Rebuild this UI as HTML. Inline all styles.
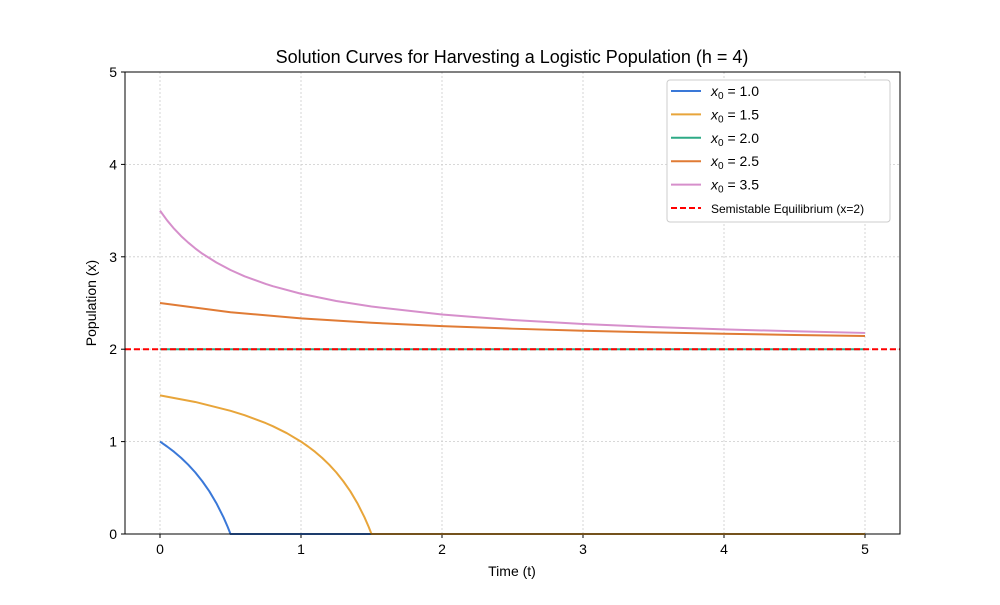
<!DOCTYPE html>
<html><head><meta charset="utf-8"><style>
body{margin:0;background:#fff;font-family:"Liberation Sans",sans-serif}
svg text{font-family:"Liberation Sans",sans-serif}
</style></head><body>
<svg id="c" width="1000" height="600"></svg>
<script>
const seriesLabels=["1.0","1.5","2.0","2.5","3.5"];
const seriesColors=["#3a78d8","#e8a53a","#2eaa86","#e07b35","#d68fcb"];
const t10=[0,0.05,0.1,0.15,0.2,0.25,0.3,0.35,0.4,0.45,0.48,0.5,5];
const x10=[1,0.947,0.889,0.824,0.75,0.667,0.571,0.462,0.333,0.182,0.077,0,0];
const t15=[0,0.25,0.5,0.6,0.75,0.8,0.9,1,1.05,1.1,1.15,1.2,1.25,1.3,1.35,1.4,1.45,1.48,1.5,5];
const x15=[1.5,1.429,1.333,1.286,1.2,1.167,1.091,1.0,0.947,0.889,0.824,0.75,0.667,0.571,0.462,0.333,0.182,0.077,0,0];
const t20=[0,5];
const x20=[2,2];
const t25=[0,0.5,1,1.5,2,2.5,3,3.5,4,4.5,5];
const x25=[2.5,2.4,2.333,2.286,2.25,2.222,2.2,2.182,2.167,2.154,2.143];
const t35=[0,0.05,0.1,0.15,0.2,0.25,0.3,0.4,0.5,0.6,0.75,0.8,1,1.25,1.5,2,2.5,3,3.5,4,4.5,5];
const x35=[3.5,3.395,3.304,3.224,3.154,3.091,3.034,2.938,2.857,2.789,2.706,2.682,2.6,2.522,2.462,2.375,2.316,2.273,2.24,2.214,2.194,2.176];
const xTicks=[0,1,2,3,4,5];
const yTicks=[0,1,2,3,4,5];
const equilibrium=2;
const L=125,R=900,T=72,B=534;
const X=t=>160+t*141, Y=v=>B-v*(B-T)/5;
const svg=document.getElementById('c');
const NS='http://www.w3.org/2000/svg';
function mk(tag,a,txt){const e=document.createElementNS(NS,tag);for(const k in a)e.setAttribute(k,a[k]);if(txt!==undefined)e.textContent=txt;svg.appendChild(e);return e;}
xTicks.forEach(v=>{
 const g=mk('line',{x1:X(v),x2:X(v),y1:T,y2:B,stroke:'#ccc','stroke-dasharray':'2,2','stroke-width':0.8});
 
 
 mk('line',{x1:X(v),x2:X(v),y1:B,y2:B+4,stroke:'#000'});
 const t=mk('text',{x:X(v),y:B+20,'text-anchor':'middle','font-size':14},v);
 
 
});
yTicks.forEach(v=>{
 const g=mk('line',{x1:L,x2:R,y1:Y(v),y2:Y(v),stroke:'#ccc','stroke-dasharray':'2,2','stroke-width':0.8});
 
 
 mk('line',{x1:L-4,x2:L,y1:Y(v),y2:Y(v),stroke:'#000'});
 const t=mk('text',{x:L-8,y:Y(v)+5,'text-anchor':'end','font-size':14},v);
 
 
});
const ts=[t10,t15,t20,t25,t35], xs=[x10,x15,x20,x25,x35];
ts.forEach((tt,i)=>{
 const p=mk('polyline',{points:tt.map((t,j)=>X(t)+','+Y(xs[i][j])).join(' '),fill:'none',stroke:seriesColors[i],'stroke-width':2,'stroke-linejoin':'round'});
 
 
});
const eq=mk('line',{x1:L,x2:R,y1:Y(equilibrium),y2:Y(equilibrium),stroke:'#f00','stroke-width':2,'stroke-dasharray':'6,3'});


const fr=mk('rect',{x:L,y:T,width:R-L,height:B-T,fill:'none',stroke:'#000','stroke-width':1});


const ti=mk('text',{x:512,y:63,'text-anchor':'middle','font-size':18},'Solution Curves for Harvesting a Logistic Population (h = 4)');


const xl=mk('text',{x:512,y:576,'text-anchor':'middle','font-size':14},'Time (t)');


const yl=mk('text',{x:96,y:303,'text-anchor':'middle','font-size':14,transform:'rotate(-90 96 303)'},'Population (x)');


const lg=mk('rect',{x:667,y:80,width:223,height:142,fill:'#fff',stroke:'#ccc',rx:3});


seriesLabels.forEach((s,i)=>{
 const y=91+i*23.4;
 mk('line',{x1:671,x2:701,y1:y,y2:y,stroke:seriesColors[i],'stroke-width':2});
 const t=mk('text',{x:711,y:y+5,'font-size':14});
 t.innerHTML='<tspan font-style="italic">x</tspan><tspan font-size="10" dy="3">0</tspan><tspan dy="-3"> = '+s+'</tspan>';
 
 
});
mk('line',{x1:671,x2:701,y1:208,y2:208,stroke:'#f00','stroke-width':2,'stroke-dasharray':'6,3'});
const le=mk('text',{x:711,y:213,'font-size':12},'Semistable Equilibrium (x=2)');


</script>
</body></html>
